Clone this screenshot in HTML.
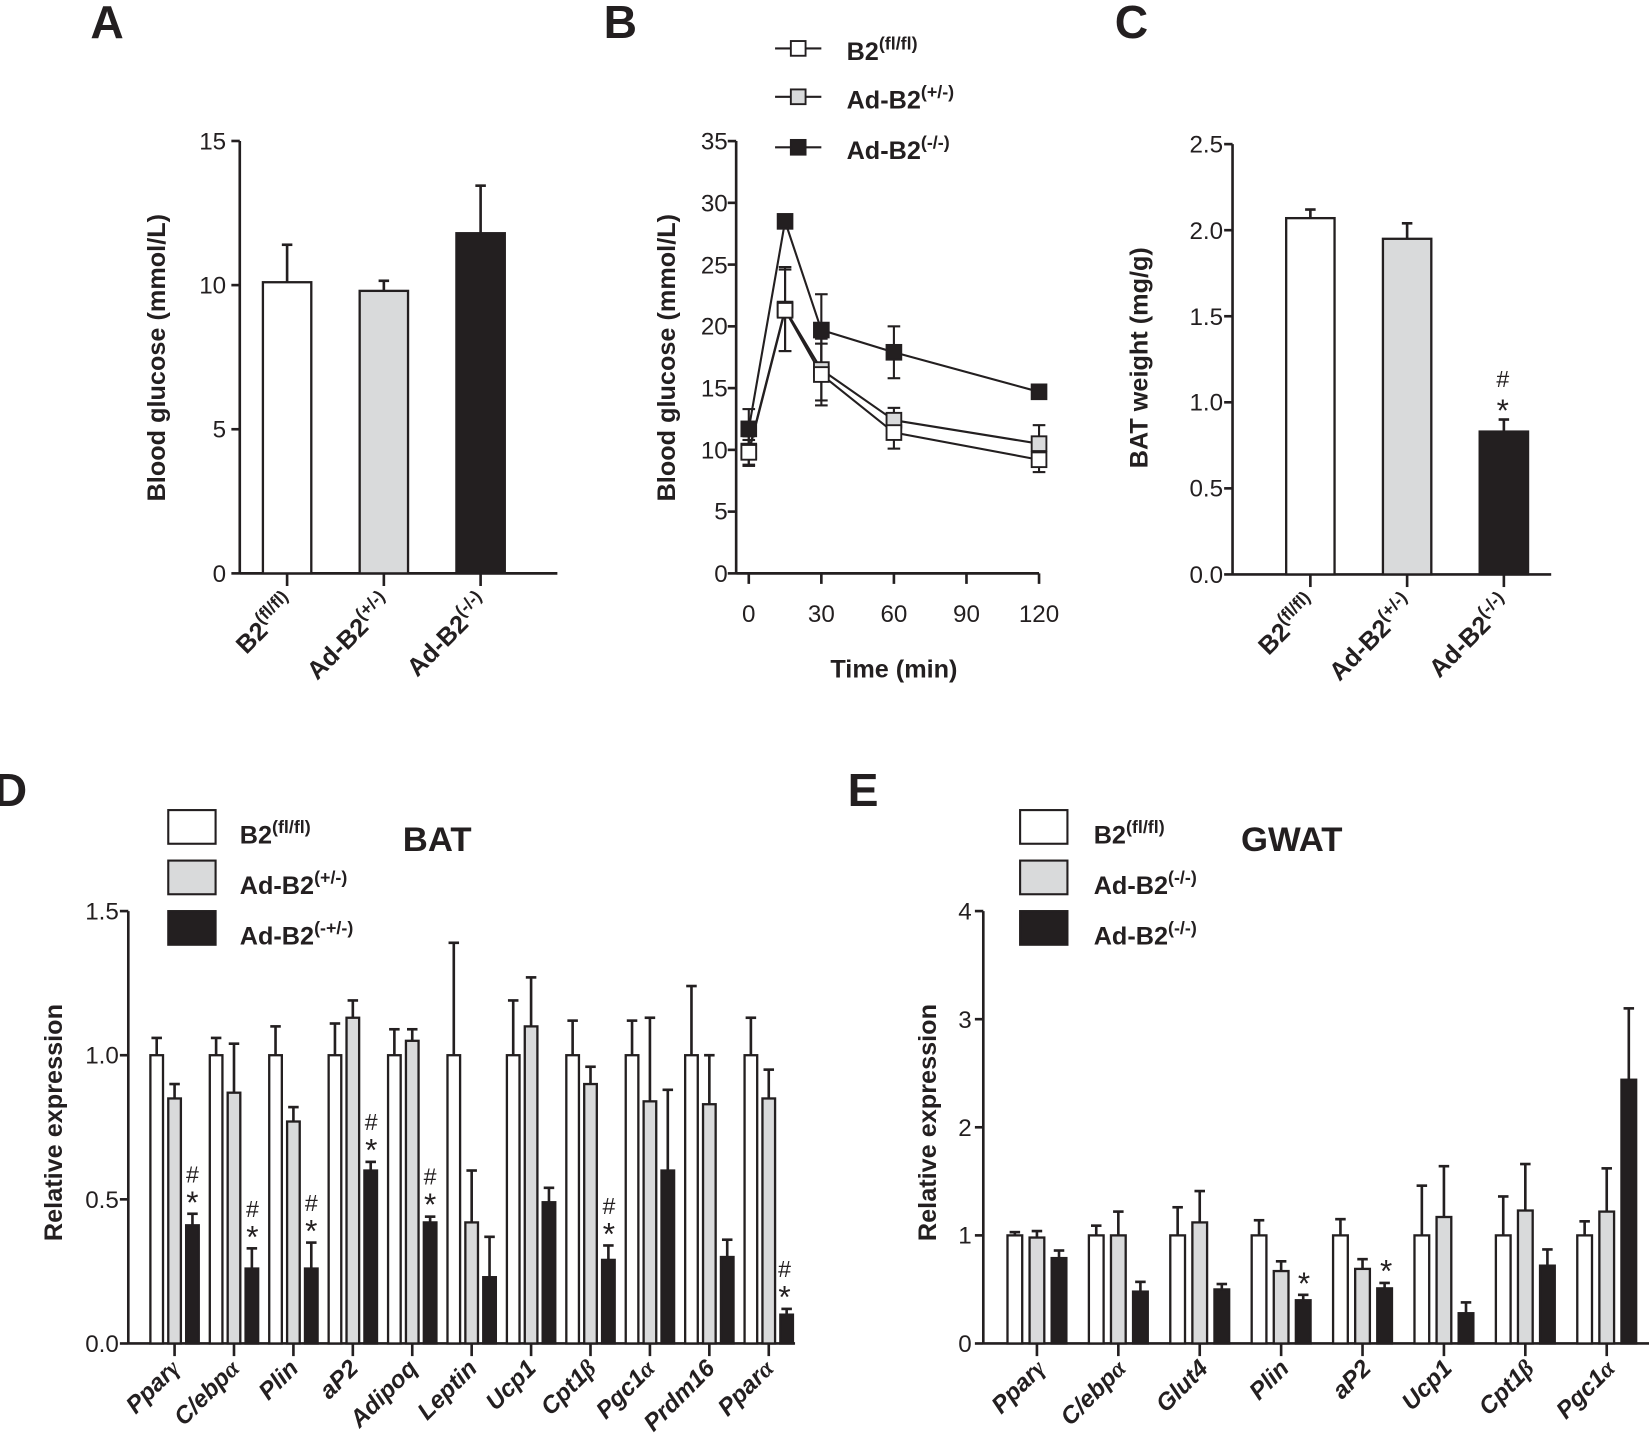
<!DOCTYPE html>
<html><head><meta charset="utf-8"><style>
html,body{margin:0;padding:0;background:#fff}
svg{display:block}
text{font-family:"Liberation Sans",sans-serif;fill:#231f20}
.b{font-weight:bold}
.t{font-size:23px}
.l{font-size:24px;font-weight:bold}
.x{font-size:23px;font-weight:bold;font-style:italic}
.L{font-size:44px;font-weight:bold}
.m{font-size:22px}
.s{font-size:30px}
</style></head><body>
<svg id="s" width="1649" height="1455" viewBox="0 0 1568 1383" preserveAspectRatio="none" xmlns="http://www.w3.org/2000/svg">
<g stroke="#231f20" stroke-width="2.5" fill="none" id="g"></g>
<text x="86" y="36" class="L">A</text>
<text x="574" y="36" class="L">B</text>
<text x="1060" y="36" class="L">C</text>
<text x="-6" y="766" class="L">D</text>
<text x="806" y="766" class="L">E</text>
<!-- A -->
<g class="t" text-anchor="end">
<text x="215" y="142">15</text><text x="215" y="279">10</text><text x="215" y="416">5</text><text x="215" y="553">0</text>
</g>
<text class="l" transform="translate(157,340) rotate(-90)" text-anchor="middle">Blood glucose (mmol/L)</text>
<g class="l" text-anchor="end">
<text transform="translate(282,575) rotate(-45)">B2<tspan dy="-10" font-size="17">(fl/fl)</tspan></text>
<text transform="translate(374,575) rotate(-45)">Ad-B2<tspan dy="-10" font-size="17">(+/-)</tspan></text>
<text transform="translate(466,575) rotate(-45)">Ad-B2<tspan dy="-10" font-size="17">(-/-)</tspan></text>
</g>
<!-- B -->
<g class="t" text-anchor="end">
<text x="692" y="142">35</text><text x="692" y="201">30</text><text x="692" y="260">25</text><text x="692" y="318">20</text><text x="692" y="377">15</text><text x="692" y="436">10</text><text x="692" y="494">5</text><text x="692" y="553">0</text>
</g>
<g class="t" text-anchor="middle">
<text x="712" y="591">0</text><text x="781" y="591">30</text><text x="850" y="591">60</text><text x="919" y="591">90</text><text x="988" y="591">120</text>
</g>
<text class="l" x="850" y="644" text-anchor="middle">Time (min)</text>
<text class="l" transform="translate(642,340) rotate(-90)" text-anchor="middle">Blood glucose (mmol/L)</text>
<g class="l">
<text x="805" y="57">B2<tspan dy="-10" font-size="17">(fl/fl)</tspan></text>
<text x="805" y="103">Ad-B2<tspan dy="-10" font-size="17">(+/-)</tspan></text>
<text x="805" y="151">Ad-B2<tspan dy="-10" font-size="17">(-/-)</tspan></text>
</g>
<!-- C -->
<g class="t" text-anchor="end">
<text x="1163" y="145">2.5</text><text x="1163" y="227">2.0</text><text x="1163" y="309">1.5</text><text x="1163" y="390">1.0</text><text x="1163" y="472">0.5</text><text x="1163" y="554">0.0</text>
</g>
<text class="l" transform="translate(1091,340) rotate(-90)" text-anchor="middle">BAT weight (mg/g)</text>
<text x="1429" y="368" class="m" text-anchor="middle">#</text>
<text x="1429" y="400" class="s" text-anchor="middle">*</text>
<g class="l" text-anchor="end">
<text transform="translate(1254,576) rotate(-45)">B2<tspan dy="-10" font-size="17">(fl/fl)</tspan></text>
<text transform="translate(1346,576) rotate(-45)">Ad-B2<tspan dy="-10" font-size="17">(+/-)</tspan></text>
<text transform="translate(1438,576) rotate(-45)">Ad-B2<tspan dy="-10" font-size="17">(-/-)</tspan></text>
</g>
<!-- D -->
<g class="t" text-anchor="end">
<text x="113" y="874">1.5</text><text x="113" y="1011">1.0</text><text x="113" y="1148">0.5</text><text x="113" y="1285">0.0</text>
</g>
<text class="l" transform="translate(59,1067) rotate(-90)" text-anchor="middle">Relative expression</text>
<g class="l">
<text x="228" y="802">B2<tspan dy="-10" font-size="17">(fl/fl)</tspan></text>
<text x="228" y="850">Ad-B2<tspan dy="-10" font-size="17">(+/-)</tspan></text>
<text x="228" y="898">Ad-B2<tspan dy="-10" font-size="17">(-+/-)</tspan></text>
</g>
<text x="383" y="809" class="b" font-size="33">BAT</text>
<g class="x" text-anchor="end">
<text transform="translate(172,1302) rotate(-45)">Ppar<tspan font-family="Liberation Serif">γ</tspan></text>
<text transform="translate(229,1302) rotate(-45)">C/ebp<tspan font-family="Liberation Serif">α</tspan></text>
<text transform="translate(285,1302) rotate(-45)">Plin</text>
<text transform="translate(342,1302) rotate(-45)">aP2</text>
<text transform="translate(398,1302) rotate(-45)">Adipoq</text>
<text transform="translate(455,1302) rotate(-45)">Leptin</text>
<text transform="translate(511,1302) rotate(-45)">Ucp1</text>
<text transform="translate(568,1302) rotate(-45)">Cpt1<tspan font-family="Liberation Serif">β</tspan></text>
<text transform="translate(624,1302) rotate(-45)">Pgc1<tspan font-family="Liberation Serif">α</tspan></text>
<text transform="translate(681,1302) rotate(-45)">Prdm16</text>
<text transform="translate(737,1302) rotate(-45)">Ppar<tspan font-family="Liberation Serif">α</tspan></text>
</g>
<!-- E -->
<g class="t" text-anchor="end">
<text x="924" y="874">4</text><text x="924" y="977">3</text><text x="924" y="1080">2</text><text x="924" y="1182">1</text><text x="924" y="1285">0</text>
</g>
<text class="l" transform="translate(890,1067) rotate(-90)" text-anchor="middle">Relative expression</text>
<g class="l">
<text x="1040" y="802">B2<tspan dy="-10" font-size="17">(fl/fl)</tspan></text>
<text x="1040" y="850">Ad-B2<tspan dy="-10" font-size="17">(-/-)</tspan></text>
<text x="1040" y="898">Ad-B2<tspan dy="-10" font-size="17">(-/-)</tspan></text>
</g>
<text x="1180" y="809" class="b" font-size="33">GWAT</text>
<g class="x" text-anchor="end">
<text transform="translate(995,1302) rotate(-45)">Ppar<tspan font-family="Liberation Serif">γ</tspan></text>
<text transform="translate(1072,1302) rotate(-45)">C/ebp<tspan font-family="Liberation Serif">α</tspan></text>
<text transform="translate(1150,1302) rotate(-45)">Glut4</text>
<text transform="translate(1227,1302) rotate(-45)">Plin</text>
<text transform="translate(1305,1302) rotate(-45)">aP2</text>
<text transform="translate(1382,1302) rotate(-45)">Ucp1</text>
<text transform="translate(1460,1302) rotate(-45)">Cpt1<tspan font-family="Liberation Serif">β</tspan></text>
<text transform="translate(1537,1302) rotate(-45)">Pgc1<tspan font-family="Liberation Serif">α</tspan></text>
</g>
<g text-anchor="middle">
<text class="m" x="183" y="1124">#</text><text class="s" x="183" y="1153">*</text>
<text class="m" x="240" y="1157">#</text><text class="s" x="240" y="1186">*</text>
<text class="m" x="296" y="1151">#</text><text class="s" x="296" y="1180">*</text>
<text class="m" x="353" y="1074">#</text><text class="s" x="353" y="1103">*</text>
<text class="m" x="409" y="1126">#</text><text class="s" x="409" y="1155">*</text>
<text class="m" x="579" y="1154">#</text><text class="s" x="579" y="1183">*</text>
<text class="m" x="746" y="1214">#</text><text class="s" x="746" y="1243">*</text>
<text class="s" x="1240" y="1230">*</text>
<text class="s" x="1318" y="1218">*</text>
</g>
</svg>
<script>
var g=document.getElementById('g'),NS='http://www.w3.org/2000/svg';
function el(n,a){var e=document.createElementNS(NS,n);for(var k in a)e.setAttribute(k,a[k]);g.appendChild(e);return e;}
function line(x1,y1,x2,y2,w){el('line',{x1:x1,y1:y1,x2:x2,y2:y2,'stroke-width':w||2.5});}
var F=['#fff','#d9dadb','#231f20'];
function bar(x,w,y0,y,ye,f){line(x+w/2,ye,x+w/2,y);line(x+w/2-5,ye,x+w/2+5,ye);el('rect',{x:x,y:y,width:w,height:y0-y,fill:f,'stroke-width':2.2});}
line(228,134,228,546);line(228,545,530,545);
[134,271,408,545].forEach(function(y){line(220,y,228,y);});
var A=[[10.1,11.4],[9.8,10.15],[11.8,13.45]];
A.forEach(function(d,i){var x=250+92*i;bar(x,46,545,545-d[0]*27.4,545-d[1]*27.4,F[i]);line(x+23,545,x+23,557);});
line(700,134,700,546);line(700,545,988,545);
for(var i=0;i<8;i++)line(692,545-i*58.7,700,545-i*58.7);
[712,781,850,919,988].forEach(function(x){line(x,545,x,555);});
function px(t){return 712+t*2.3;}function py(v){return 545-v*11.74;}
var S=[
 {f:F[2],p:[[0,11.7,1.6],[15,28.5,0.3],[30,19.7,2.9],[60,17.9,2.1],[120,14.7,0.4]]},
 {f:F[1],p:[[0,9.9,1.2],[15,21.4,3.4],[30,16.5,2.5],[60,12.4,1.0],[120,10.5,1.5]]},
 {f:F[0],p:[[0,9.8,1.0],[15,21.3,3.3],[30,16.1,2.5],[60,11.4,1.3],[120,9.2,1.0]]}];
S.forEach(function(s){var pts=s.p.map(function(q){return px(q[0])+','+py(q[1]);}).join(' ');el('polyline',{points:pts,'stroke-width':2});
 s.p.forEach(function(q){var x=px(q[0]);line(x,py(q[1]-q[2]),x,py(q[1]+q[2]),2);line(x-6,py(q[1]+q[2]),x+6,py(q[1]+q[2]),2);line(x-6,py(q[1]-q[2]),x+6,py(q[1]-q[2]),2);});});
S.forEach(function(s){s.p.forEach(function(q){el('rect',{x:px(q[0])-7,y:py(q[1])-7,width:14,height:14,fill:s.f,'stroke-width':1.8});});});
[[46,F[0]],[92,F[1]],[140,F[2]]].forEach(function(l){line(737,l[0],781,l[0],2);el('rect',{x:752,y:l[0]-7,width:14,height:14,fill:l[1],'stroke-width':1.8});});
line(1172,137,1172,547);line(1172,546,1475,546);
for(var i=0;i<6;i++)line(1164,546-i*81.8,1172,546-i*81.8);
[[2.07,2.12],[1.95,2.04],[0.83,0.9]].forEach(function(d,i){var x=1223+92*i;bar(x,46,546,546-d[0]*163.6,546-d[1]*163.6,F[i]);line(x+23,546,x+23,558);});
line(122,866,122,1278);line(122,1277,756,1277);
for(var i=0;i<4;i++)line(114,1277-i*137,122,1277-i*137);
var D=[[1.06,.85,.9,.41,.45],[1.06,.87,1.04,.26,.33],[1.1,.77,.82,.26,.35],[1.11,1.13,1.19,.6,.63],[1.09,1.05,1.09,.42,.44],[1.39,.42,.6,.23,.37],[1.19,1.1,1.27,.49,.54],[1.12,.9,.96,.29,.34],[1.12,.84,1.13,.6,.88],[1.24,.83,1.0,.3,.36],[1.13,.85,.95,.1,.12]];
D.forEach(function(d,i){var x=143+56.5*i,s=274;bar(x,12,1277,1277-s,1277-d[0]*s,F[0]);bar(x+17,12,1277,1277-d[1]*s,1277-d[2]*s,F[1]);bar(x+34,12,1277,1277-d[3]*s,1277-d[4]*s,F[2]);line(x+23,1277,x+23,1289);});
[[770,F[0]],[818,F[1]],[866,F[2]]].forEach(function(l){el('rect',{x:160,y:l[0],width:45,height:32,fill:l[1],'stroke-width':2});});
line(935,866,935,1278);line(935,1277,1568,1277);
for(var i=0;i<5;i++)line(927,1277-i*102.75,935,1277-i*102.75);
var E=[[1.03,.98,1.04,.79,.86],[1.09,1.0,1.22,.48,.57],[1.26,1.12,1.41,.5,.55],[1.14,.67,.76,.4,.45],[1.15,.69,.78,.51,.56],[1.46,1.17,1.64,.28,.38],[1.36,1.23,1.66,.72,.87],[1.13,1.22,1.62,2.44,3.1]];
E.forEach(function(d,i){var x=958+77.4*i,s=102.75;bar(x,14,1277,1277-s,1277-d[0]*s,F[0]);bar(x+21,14,1277,1277-d[1]*s,1277-d[2]*s,F[1]);bar(x+42,14,1277,1277-d[3]*s,1277-d[4]*s,F[2]);line(x+28,1277,x+28,1289);});
[[770,F[0]],[818,F[1]],[866,F[2]]].forEach(function(l){el('rect',{x:970,y:l[0],width:45,height:32,fill:l[1],'stroke-width':2});});
</script>
</body></html>
